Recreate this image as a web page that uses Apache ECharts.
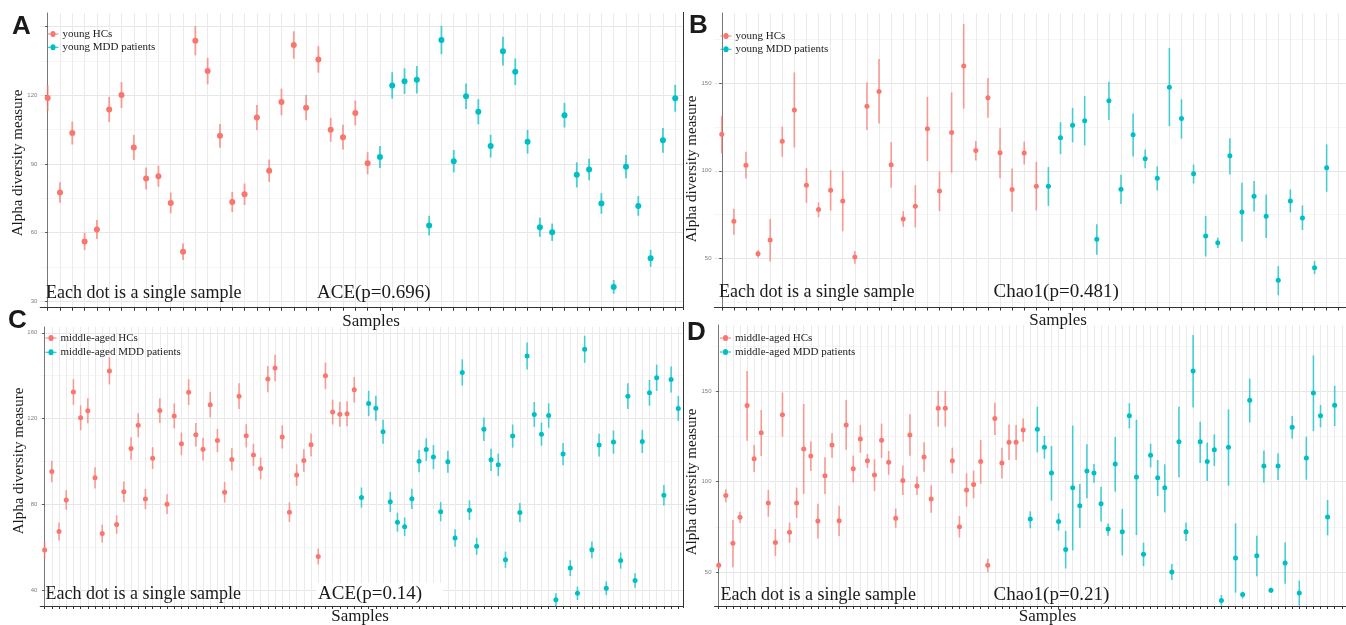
<!DOCTYPE html>
<html>
<head>
<meta charset="utf-8">
<script src="https://cdn.jsdelivr.net/npm/echarts@6/dist/echarts.min.js"></script>
<style>
  html, body { margin: 0; padding: 0; background: #ffffff; }
  #chart { width: 1346px; height: 625px; }
</style>
</head>
<body>
<div id="chart"></div>
<script>
// ---------- Panel A: young cohort, ACE estimate ± s.e. ----------
const aceYoungHC = [118.8, 77.5, 103.5, 56.1, 61.3, 113.8, 120.1, 97.2, 83.6, 84.6, 72.9, 51.6, 143.9, 130.6, 102.3, 73.3, 76.7, 110.3, 87.0, 117.1, 142.0, 114.6, 135.7, 104.9, 101.7, 112.3, 90.3];
const aceYoungHCErr = [5.6, 4.5, 5.0, 3.8, 4.2, 5.5, 5.7, 5.5, 4.8, 4.6, 4.5, 3.6, 6.4, 5.8, 5.2, 4.4, 4.7, 5.5, 4.9, 5.8, 6.0, 5.5, 5.8, 5.2, 5.4, 5.4, 4.8];
const aceYoungMDD = [93.0, 124.3, 126.2, 126.8, 63.0, 144.2, 91.2, 119.6, 112.8, 97.8, 139.3, 130.3, 99.7, 62.3, 60.1, 111.3, 85.2, 87.5, 72.7, 36.2, 88.8, 71.6, 48.7, 100.3, 118.7];
const aceYoungMDDErr = [4.8, 5.8, 5.6, 6.0, 4.3, 6.2, 4.9, 5.6, 5.5, 5.0, 6.3, 5.8, 5.2, 4.2, 3.8, 5.4, 5.5, 4.7, 4.5, 3.0, 5.1, 4.3, 3.7, 5.4, 5.9];

// ---------- Panel B: young cohort, Chao1 estimate with interval ----------
const chaoYoungHC = [120.8, 71.2, 103.1, 52.7, 60.5, 116.8, 134.7, 91.8, 77.9, 88.9, 82.8, 50.8, 136.8, 145.2, 103.4, 72.5, 79.8, 124.0, 88.5, 121.9, 159.7, 111.5, 141.6, 110.3, 89.3, 110.1, 91.2];
const chaoYoungHCLow = [109.9, 63.5, 95.6, 50.4, 48.3, 108.0, 113.2, 81.7, 73.5, 77.3, 65.5, 46.9, 123.3, 126.9, 90.3, 68.1, 67.6, 105.5, 76.9, 98.9, 135.5, 105.9, 130.3, 95.8, 76.7, 103.6, 77.3];
const chaoYoungHCHigh = [131.3, 78.4, 110.9, 54.6, 72.5, 125.2, 156.1, 101.5, 81.9, 100.4, 100.0, 54.2, 150.4, 163.7, 116.4, 76.9, 91.8, 142.2, 99.6, 144.7, 183.8, 117.0, 152.9, 124.2, 101.3, 116.6, 105.0];
const chaoYoungMDD = [91.2, 118.9, 126.0, 128.6, 60.9, 139.9, 89.5, 120.6, 106.9, 95.8, 147.7, 129.8, 98.3, 62.8, 59.0, 108.6, 76.5, 85.5, 74.0, 37.6, 82.8, 73.1, 44.7, 101.7];
const chaoYoungMDDLow = [80.0, 109.5, 116.2, 114.5, 52.1, 129.0, 81.1, 108.2, 101.5, 88.7, 125.4, 118.3, 92.7, 51.1, 55.9, 97.9, 59.7, 76.7, 61.6, 29.0, 76.3, 66.2, 41.0, 88.0];
const chaoYoungMDDHigh = [102.1, 127.7, 135.9, 142.7, 69.5, 150.8, 97.7, 132.6, 112.2, 102.5, 170.0, 140.8, 103.6, 74.2, 61.8, 118.5, 93.1, 94.1, 86.5, 45.6, 89.3, 80.2, 48.5, 115.1];

// ---------- Panel C: middle-aged cohort, ACE estimate ± s.e. ----------
const aceMidHC = [58.6, 95.3, 67.3, 82.0, 132.4, 120.3, 123.6, 92.3, 66.3, 142.2, 70.5, 85.8, 106.0, 116.9, 82.4, 101.5, 123.7, 80.0, 121.2, 108.2, 132.3, 112.4, 105.7, 126.4, 109.7, 85.6, 100.9, 130.4, 111.9, 103.0, 96.7, 138.4, 143.6, 111.4, 76.3, 93.6, 100.4, 107.7, 55.6, 139.9, 123.0, 122.0, 122.2, 133.4];
const aceMidHCErr = [4.0, 5.0, 4.2, 4.6, 6.0, 5.8, 5.8, 5.0, 4.2, 6.3, 4.3, 4.8, 5.3, 5.6, 4.7, 5.1, 5.8, 4.6, 5.8, 5.3, 6.0, 5.5, 5.3, 5.9, 5.4, 4.8, 5.2, 6.0, 5.4, 5.2, 5.1, 6.1, 6.2, 5.4, 4.6, 5.0, 5.2, 5.3, 3.7, 6.2, 5.8, 5.8, 5.8, 6.0];
const aceMidMDD = [83.1, 127.0, 124.8, 113.8, 81.1, 71.6, 69.5, 82.5, 100.1, 105.5, 102.0, 76.5, 99.8, 64.2, 141.5, 77.2, 60.4, 115.0, 100.7, 98.4, 54.1, 111.8, 76.1, 149.2, 121.9, 112.7, 121.4, 35.4, 103.4, 50.2, 38.4, 152.3, 58.7, 107.6, 40.8, 109.0, 53.7, 130.4, 44.4, 109.3, 132.0, 139.0, 84.2, 138.2, 124.7];
const aceMidMDDErr = [4.7, 5.9, 5.8, 5.6, 4.7, 4.4, 4.3, 4.7, 5.2, 5.3, 5.6, 4.5, 5.1, 4.1, 6.1, 4.6, 4.0, 5.5, 5.2, 5.2, 3.8, 5.4, 4.5, 6.3, 5.8, 5.4, 5.7, 3.0, 5.2, 3.7, 3.1, 6.3, 3.9, 5.3, 3.2, 5.4, 3.8, 6.0, 3.4, 5.4, 6.0, 6.1, 4.8, 6.1, 5.8];

// ---------- Panel D: middle-aged cohort, Chao1 estimate with interval ----------
const chaoMidHC = [53.7, 92.3, 65.9, 80.3, 142.1, 112.7, 127.1, 88.2, 66.4, 137.1, 72.0, 88.2, 118.1, 114.2, 78.2, 103.3, 120.3, 78.4, 131.4, 107.2, 123.6, 111.6, 103.7, 122.9, 110.7, 79.7, 100.7, 125.8, 97.6, 113.7, 90.4, 140.6, 140.6, 111.6, 75.1, 95.4, 98.5, 111.1, 53.7, 134.9, 110.3, 121.8, 121.8, 128.6];
const chaoMidHCLow = [51.8, 88.6, 52.6, 77.1, 122.7, 105.4, 114.2, 80.6, 58.9, 124.9, 66.2, 79.9, 93.2, 105.9, 68.5, 93.2, 113.3, 69.9, 117.7, 99.6, 116.1, 107.6, 94.8, 113.1, 103.9, 74.5, 92.6, 114.4, 92.6, 105.5, 82.8, 130.4, 130.4, 104.6, 69.2, 86.2, 90.8, 98.9, 49.8, 125.8, 101.8, 112.0, 112.0, 122.1];
const chaoMidHCHigh = [55.5, 95.8, 78.8, 83.4, 161.3, 120.3, 139.7, 95.4, 73.8, 149.3, 77.3, 96.7, 143.0, 122.3, 87.8, 113.5, 126.8, 86.7, 145.2, 114.4, 131.4, 115.3, 112.4, 132.1, 117.0, 85.1, 108.9, 137.3, 102.8, 121.8, 98.0, 150.2, 150.2, 118.8, 81.0, 104.6, 106.1, 123.1, 57.4, 143.7, 118.8, 131.7, 131.4, 134.9];
const chaoMidMDD = [79.3, 129.0, 119.0, 104.8, 77.9, 62.4, 96.7, 86.7, 105.9, 104.8, 87.8, 73.8, 109.8, 72.3, 136.5, 102.6, 59.8, 114.6, 102.2, 96.7, 50.0, 122.1, 72.3, 161.3, 122.1, 111.1, 117.7, 34.3, 119.0, 57.7, 37.5, 145.0, 59.0, 108.7, 39.9, 108.7, 55.0, 130.1, 38.4, 113.1, 149.1, 136.5, 80.4, 142.3];
const chaoMidMDDLow = [74.2, 116.2, 112.7, 89.5, 72.9, 52.0, 62.0, 74.4, 90.8, 99.4, 78.0, 70.1, 94.5, 59.2, 129.5, 70.5, 53.3, 107.9, 92.1, 83.0, 45.6, 102.4, 67.2, 141.1, 110.3, 100.4, 108.7, 31.4, 97.8, 38.6, 35.4, 132.8, 47.6, 99.6, 38.4, 100.9, 43.5, 123.8, 31.4, 101.1, 128.0, 130.1, 70.3, 130.8];
const chaoMidMDDHigh = [83.6, 141.5, 125.3, 119.7, 82.5, 72.7, 131.0, 98.7, 120.7, 109.8, 97.2, 76.9, 124.7, 84.9, 143.4, 134.3, 66.2, 121.0, 112.0, 109.6, 54.4, 141.5, 77.3, 181.2, 133.2, 121.6, 126.2, 37.3, 140.0, 76.9, 39.1, 157.0, 70.1, 117.3, 41.3, 115.7, 66.4, 136.3, 45.2, 124.9, 169.9, 142.4, 89.9, 153.1];

// Samples per cohort (HC + MDD); the right-hand panels run past the canvas edge,
// so their last sample slot falls outside the visible area.
const youngSampleCount = 52;
const middleSampleCount = 89;

// Tick values of the y axes
const ticksA = [30, 60, 90, 120, 150];
const minorA = [45, 75, 105, 135];
const ticksB = [50, 100, 150];
const minorB = [25, 75, 125, 175];
const ticksC = [40, 80, 120, 160];
const minorC = [60, 100, 140];
const ticksD = [50, 100, 150];
const minorD = [75, 125, 175];

const legendYoung = ['young HCs', 'young MDD patients'];
const legendMiddle = ['middle-aged HCs', 'middle-aged MDD patients'];

const RED = '#F8766D';
const TEAL = '#00BFC4';
const SERIF = '"Liberation Serif", "Times New Roman", serif';

function withErr(vals, errs, sign) {
  return vals.map((v, i) => +(v + sign * errs[i]).toFixed(2));
}

const panels = [
  {
    letter: 'A', letterPos: [11, 13], letterPad: [1, 9, 1, 1],
    grid: { left: 40.3, top: 13, width: 642.3, height: 294.7 },
    count: youngSampleCount, yMin: 27.1, yMax: 156.0, ticks: ticksA, minor: minorA,
    hc: aceYoungHC, hcLow: withErr(aceYoungHC, aceYoungHCErr, -1), hcHigh: withErr(aceYoungHC, aceYoungHCErr, 1),
    mdd: aceYoungMDD, mddLow: withErr(aceYoungMDD, aceYoungMDDErr, -1), mddHigh: withErr(aceYoungMDD, aceYoungMDDErr, 1),
    names: legendYoung, legendPos: [47.5, 28], legendGap: 1.3,
    stat: 'ACE(p=0.696)', statPos: [317, 293], statPad: null, notePos: [46, 293],
    yTitle: [18.5, 163], xTitle: [371, 322], dot: 6, bar: 1.8
  },
  {
    letter: 'B', letterPos: [689, 13], letterPad: [0, 0, 0, 0],
    grid: { left: 714.5, top: 13, width: 642.3, height: 294.5 },
    count: youngSampleCount, yMin: 22.0, yMax: 190.0, ticks: ticksB, minor: minorB,
    hc: chaoYoungHC, hcLow: chaoYoungHCLow, hcHigh: chaoYoungHCHigh,
    mdd: chaoYoungMDD, mddLow: chaoYoungMDDLow, mddHigh: chaoYoungMDDHigh,
    names: legendYoung, legendPos: [720.5, 30], legendGap: 1.3,
    stat: 'Chao1(p=0.481)', statPos: [993.5, 292], statPad: null, notePos: [719, 292],
    yTitle: [692.5, 169], xTitle: [1058, 321], dot: 5, bar: 1.6
  },
  {
    letter: 'C', letterPos: [8, 308], letterPad: [0, 0, 0, 0],
    grid: { left: 40.3, top: 327, width: 642.3, height: 279 },
    count: middleSampleCount, yMin: 32.5, yMax: 162.7, ticks: ticksC, minor: minorC,
    hc: aceMidHC, hcLow: withErr(aceMidHC, aceMidHCErr, -1), hcHigh: withErr(aceMidHC, aceMidHCErr, 1),
    mdd: aceMidMDD, mddLow: withErr(aceMidMDD, aceMidMDDErr, -1), mddHigh: withErr(aceMidMDD, aceMidMDDErr, 1),
    names: legendMiddle, legendPos: [45.5, 332], legendGap: 2.3,
    stat: 'ACE(p=0.14)', statPos: [316, 594], statPad: [4, 21, 0, 2], notePos: [45.5, 594],
    yTitle: [19.5, 461], xTitle: [360, 617], dot: 5, bar: 1.6
  },
  {
    letter: 'D', letterPos: [687, 320], letterPad: [0, 0, 0, 0],
    grid: { left: 714.5, top: 325, width: 642.3, height: 281 },
    count: middleSampleCount, yMin: 31.2, yMax: 186.7, ticks: ticksD, minor: minorD,
    hc: chaoMidHC, hcLow: chaoMidHCLow, hcHigh: chaoMidHCHigh,
    mdd: chaoMidMDD, mddLow: chaoMidMDDLow, mddHigh: chaoMidMDDHigh,
    names: legendMiddle, legendPos: [720, 332], legendGap: 2.0,
    stat: 'Chao1(p=0.21)', statPos: [993.5, 595], statPad: null, notePos: [720.5, 595],
    yTitle: [692.5, 482], xTitle: [1047.5, 617], dot: 5, bar: 1.6
  }
];

// Legend key of a point-range: a short line with a dot in the middle
const KEY_ICON = 'path://M0,2.5L3,2.5A2.5,2.5,0,0,1,8,2.5L11,2.5L11,3.5L8,3.5A2.5,2.5,0,0,1,3,3.5L0,3.5Z';

const option = {
  animation: false,
  backgroundColor: '#ffffff',
  grid: [], xAxis: [], yAxis: [], series: [], legend: [], graphic: []
};

function rangeSeries(name, k, start, low, high, color, width) {
  return {
    name: name + ' range',
    type: 'custom',
    xAxisIndex: k, yAxisIndex: 2 * k,
    clip: false,
    silent: true,
    z: 2,
    data: low.map((lo, i) => [start + i, lo, high[i]]),
    encode: { x: 0, y: [1, 2] },
    renderItem: function (params, api) {
      const a = api.coord([api.value(0), api.value(1)]);
      const b = api.coord([api.value(0), api.value(2)]);
      return {
        type: 'line',
        shape: { x1: a[0], y1: a[1], x2: b[0], y2: b[1] },
        style: { stroke: color, lineWidth: width, opacity: 0.7 }
      };
    }
  };
}

function pointSeries(name, k, start, vals, color, size) {
  return {
    name: name,
    type: 'scatter',
    xAxisIndex: k, yAxisIndex: 2 * k,
    symbol: 'circle',
    symbolSize: size,
    z: 3,
    itemStyle: { color: color, opacity: 1 },
    data: vals.map((v, i) => [start + i, v])
  };
}

panels.forEach((p, k) => {
  option.grid.push(Object.assign({ containLabel: false }, p.grid));
  const sampleTicks = Array.from({ length: p.count }, (_, i) => i);
  option.xAxis.push({
    type: 'value', gridIndex: k,
    min: -0.6, max: p.count - 0.4,
    axisLine: { show: true, lineStyle: { color: '#333333', width: 1.2 } },
    axisTick: { show: true, length: 3, customValues: sampleTicks, lineStyle: { color: '#333333', width: 1 } },
    axisLabel: { show: false },
    splitLine: { show: true, lineStyle: { color: '#ebebeb', width: 1 } }
  });
  option.yAxis.push({
    type: 'value', gridIndex: k,
    min: p.yMin, max: p.yMax,
    axisLine: { show: true, lineStyle: { color: '#777777', width: 1 } },
    axisTick: { show: true, length: 2.5, customValues: p.ticks, lineStyle: { color: '#555555', width: 1 } },
    axisLabel: { show: true, customValues: p.ticks, fontSize: 6, color: '#7f7f7f', margin: 3, fontFamily: '"Liberation Sans", Arial, sans-serif' },
    splitLine: { show: true, lineStyle: { color: '#e6e6e6', width: 1.2 } }
  });
  option.yAxis.push({
    type: 'value', gridIndex: k,
    min: p.yMin, max: p.yMax,
    axisLine: { show: false },
    axisTick: { show: false, customValues: p.minor },
    axisLabel: { show: false },
    splitLine: { show: true, lineStyle: { color: '#f3f3f3', width: 0.8 } }
  });

  const nHC = p.hc.length;
  option.series.push(rangeSeries(p.names[0], k, 0, p.hcLow, p.hcHigh, RED, p.bar));
  option.series.push(rangeSeries(p.names[1], k, nHC, p.mddLow, p.mddHigh, TEAL, p.bar));
  option.series.push(pointSeries(p.names[0], k, 0, p.hc, RED, p.dot));
  option.series.push(pointSeries(p.names[1], k, nHC, p.mdd, TEAL, p.dot));

  option.legend.push({
    left: p.legendPos[0], top: p.legendPos[1],
    orient: 'vertical', padding: 0,
    itemWidth: 11, itemHeight: 6, itemGap: p.legendGap,
    selectedMode: false,
    icon: KEY_ICON,
    data: p.names.map(n => ({ name: n })),
    textStyle: { fontFamily: SERIF, fontSize: 11, color: '#1a1a1a', lineHeight: 12, padding: [0, 0, 0, -1] }
  });

  const txt = (text, x, y, font, align, rot, pad) => ({
    type: 'text', x: x, y: y, rotation: rot || 0, z: 100, silent: true,
    style: Object.assign(
      { text: text, font: font, fill: '#1a1a1a', textAlign: align, textVerticalAlign: 'middle' },
      pad ? { backgroundColor: '#ffffff', padding: pad, lineHeight: 18 } : {}
    )
  });
  option.graphic.push(txt('Each dot is a single sample', p.notePos[0], p.notePos[1], '18px ' + SERIF, 'left'));
  option.graphic.push(txt(p.stat, p.statPos[0], p.statPos[1], '19px ' + SERIF, 'left', 0, p.statPad));
  option.graphic.push(txt('Alpha diversity measure', p.yTitle[0], p.yTitle[1], '15px ' + SERIF, 'center', Math.PI / 2));
  option.graphic.push(txt('Samples', p.xTitle[0], p.xTitle[1], '17px ' + SERIF, 'center'));
  option.graphic.push({
    type: 'text', x: p.letterPos[0], y: p.letterPos[1], z: 120, silent: true,
    style: {
      text: p.letter, font: 'bold 26px "Liberation Sans", Arial, sans-serif', fill: '#1a1a1a',
      textAlign: 'left', textVerticalAlign: 'top', backgroundColor: '#ffffff', padding: p.letterPad
    }
  });
});

// Dark frame line separating the left and right columns of panels
option.graphic.push({
  type: 'line', silent: true, z: 90,
  shape: { x1: 683.5, y1: 12, x2: 683.5, y2: 310 },
  style: { stroke: '#333333', lineWidth: 1 }
});
option.graphic.push({
  type: 'line', silent: true, z: 90,
  shape: { x1: 683.5, y1: 322, x2: 683.5, y2: 608 },
  style: { stroke: '#333333', lineWidth: 1 }
});

const chart = echarts.init(document.getElementById('chart'), null, { renderer: 'canvas' });
chart.setOption(option);
</script>
</body>
</html>
